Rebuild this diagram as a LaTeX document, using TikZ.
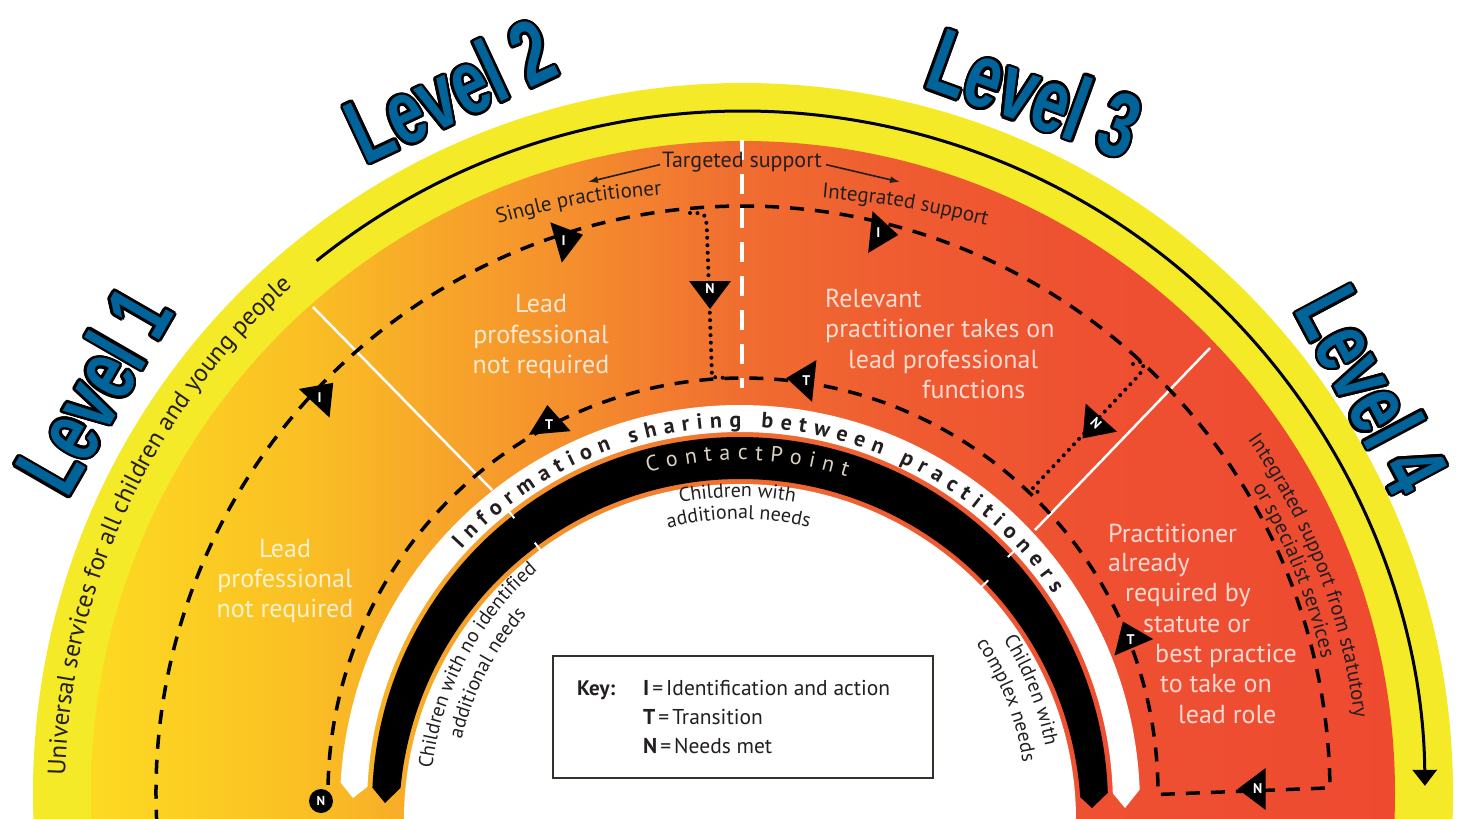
\documentclass[tikz,border=0pt]{standalone}
\usepackage{fontspec}
\setmainfont{PT Sans}
\newfontfamily\lvlfill[FakeStretch=0.70]{Liberation Sans}
\usetikzlibrary{decorations.text,arrows.meta,calc}

\definecolor{ybd}{HTML}{F4EA27}
\definecolor{g1}{HTML}{FDDA22}
\definecolor{g2}{HTML}{FAC024}
\definecolor{g3}{HTML}{F7A42A}
\definecolor{g4}{HTML}{F4892E}
\definecolor{g5}{HTML}{F06D30}
\definecolor{g6}{HTML}{EF5C31}
\definecolor{g7}{HTML}{EE5031}
\definecolor{g8}{HTML}{EE4A30}
\definecolor{lvlblue}{HTML}{00639A}
\definecolor{keyline}{HTML}{33312A}
\definecolor{cpt}{HTML}{DCD2C2}
\definecolor{ink}{HTML}{231F20}

\pgfdeclarehorizontalshading{ecm}{100bp}{color(0bp)=(g1); color(25bp)=(g1); color(33bp)=(g2); color(38.8bp)=(g3); color(44.5bp)=(g4); color(50bp)=(g5); color(56bp)=(g6); color(63.7bp)=(g7); color(75bp)=(g8); color(100bp)=(g8)}

\newcommand\fsz[1]{\fontsize{#1}{#1}\selectfont}
\newcommand\fUni{\fontsize{25}{25}\selectfont}
\newcommand\fInfo{\fontsize{22}{22}\selectfont\bfseries}
\newcommand\fCP{\fontsize{22}{22}\selectfont}
\newcommand\fSm{\fontsize{21}{21}\selectfont}
\newcommand\fCh{\fontsize{20}{20}\selectfont}

\tikzset{
  dashpath/.style={line width=3.5pt, dash pattern=on 14pt off 11pt},
  dotpath/.style={line width=4pt, line cap=round, dash pattern=on 0pt off 7.5pt},
  marklet/.style={text=white, font=\bfseries\fsz{14}, inner sep=0pt},
  lvlstyle/.style={font=\lvlfill\bfseries\fontsize{91}{91}\selectfont, inner sep=0pt},
  lighttext/.style={text=white, text opacity=0.78, font=\fsz{26}, inner sep=0pt},
  darktext/.style={text=ink, inner sep=0pt},
}

\newcommand\mkr[6]{%
  \begin{scope}[shift={(#2,-#3)},rotate=#4]
    \fill[black] (19pt,0pt) -- (-9pt,21pt) -- (-9pt,-21pt) -- cycle;
    \node[marklet,rotate=#6] (#1) at (-1pt,0pt) {#5};
  \end{scope}}

\newcommand\lvllabel[5]{%
  \foreach \a in {0,20,...,340}{\node[lvlstyle,text=black,rotate=#4] at ($(#2,-#3)+(\a:2.6pt)$) {#5};}
  \node[lvlstyle,text=lvlblue,rotate=#4] (#1) at (#2,-#3) {#5};}

\begin{document}
\begin{tikzpicture}[x=1pt,y=1pt]
\useasboundingbox (0,0) rectangle (1460,-819);
\fill[white] (0,0) rectangle (1460,-819);
\coordinate (C) at (743,-793);
\coordinate (Ci) at (740,-805);
\coordinate (Cb) at (740,-820);

% bands
\fill[ybd] (C) circle (710pt);
\shade[shading=ecm] (C) circle (652pt);

% outer black arrow
\draw[line width=3pt, -{Triangle[length=16pt,width=24pt]}] ([shift={(128.7:682pt)}]C) arc[start angle=128.7,end angle=0.6,radius=682pt];

% white dividers
\draw[white, line width=2.5pt] (313,-307) -- (492,-490);
\draw[white, line width=2.5pt] (1210,-348) -- (1035,-530);
\draw[white, line width=3.5pt, dash pattern=on 20pt off 14pt] (742,-140) -- (742,-388);

% information sharing band
\fill[white] ([shift={(176.8:400pt)}]Ci) arc[start angle=176.8,end angle=2.2,radius=400pt] -- ($(Ci)+(385pt,-3pt)$) -- ([shift={(1.8:373pt)}]Ci) arc[start angle=1.8,end angle=177.2,radius=373pt] -- ($(Ci)+(-387pt,7pt)$) -- cycle;
% ContactPoint band
\fill[black] ([shift={(177.3:368pt)}]Ci) arc[start angle=177.3,end angle=1.9,radius=368pt] -- ($(Ci)+(352pt,-3pt)$) -- ([shift={(3.85:341pt)}]Cb) arc[start angle=3.85,end angle=174.6,radius=341pt] -- ($(Ci)+(-355pt,2pt)$) -- cycle;
% interior
\fill[white] (Cb) circle (336pt);

% ticks
\foreach \ang in {128.2,42.8}{\draw[white,line width=2pt] ([shift={(\ang:365pt)}]Ci) -- ([shift={(\ang:376pt)}]Ci);}
\foreach \ang in {126.5,44}{\draw[white,line width=2pt] ([shift={(\ang:332pt)}]Cb) -- ([shift={(\ang:345pt)}]Cb);}

% pathways
\draw[dashpath] ([shift={(183:587pt)}]C) arc[start angle=183,end angle=0.5,radius=587pt] -- ([shift={(-0.2:415pt)}]C) arc[start angle=-0.2,end angle=180.9,radius=415pt];
\draw[dotpath] (690,-213) .. controls (706,-213) .. (707,-232) -- (712,-377) -- (726,-378);
\draw[dotpath] (1133,-364) .. controls (1146,-360) .. (1140,-374) -- (1032,-489) -- (1042,-494);

% markers
\mkr{mIa}{320.3}{396.7}{47}{I}{0}
\mkr{mIb}{564.7}{240}{16}{I}{0}
\mkr{mNa}{710}{290}{-90}{N}{0}
\mkr{mIc}{879.3}{233}{-6}{I}{0}
\mkr{mTb}{805.3}{380}{174}{T}{0}
\mkr{mTa}{549}{424}{95}{T}{0}
\mkr{mNb}{1095.3}{424.3}{-132}{N}{-45}
\mkr{mTc}{1130.3}{639}{113}{T}{0}
\mkr{mNc}{1256.7}{789}{180}{N}{0}
\node[circle, fill=black, minimum size=24pt, inner sep=0pt, text=white, font=\bfseries\fsz{13}] (nend) at (321,-801) {N};

% level labels
\lvllabel{lvA}{93}{390}{60}{Level 1}
\lvllabel{lvB}{450}{90}{25}{Level 2}
\lvllabel{lvC}{1035}{93}{-20}{Level 3}
\lvllabel{lvD}{1373}{390}{-62}{Level 4}

% curved texts
\path[decorate,decoration={text along path,text color=ink,text align=center,text={|\fUni|Universal services for all children and young people}}] ([shift={(190:678pt)}]C) arc[start angle=190,end angle=120.2,radius=678pt];
\path[decorate,decoration={text along path,text color=ink,text align=center,text={|\fSm|Integrated support from statutory}}] ([shift={(50:616pt)}]C) arc[start angle=50,end angle=-8,radius=616pt];
\path[decorate,decoration={text along path,text color=ink,text align=center,text={|\fSm|or specialist services}}] ([shift={(50:594pt)}]C) arc[start angle=50,end angle=-6,radius=594pt];
\path[decorate,decoration={text along path,text color=ink,text align={fit to path},text={|\fInfo|Information sharing between practitioners}}] ([shift={(137.5:378pt)}]Ci) arc[start angle=137.5,end angle=34,radius=378pt];
\path[decorate,decoration={text along path,text color=cpt,text align={fit to path},text={|\fCP|ContactPoint}}] ([shift={(105.5:345pt)}]Ci) arc[start angle=105.5,end angle=72,radius=345pt];
\path[decorate,decoration={text along path,text color=ink,text align=center,text={|\fCh|Children with}}] ([shift={(130:308pt)}]Ci) arc[start angle=130,end angle=51,radius=308pt];
\path[decorate,decoration={text along path,text color=ink,text align=center,text={|\fCh|additional needs}}] ([shift={(130:286pt)}]Ci) arc[start angle=130,end angle=50.6,radius=286pt];
\path[decorate,decoration={text along path,text color=ink,text align=center,text={|\fCh|Children with no identified}}] ([shift={(192:310pt)}]Ci) arc[start angle=192,end angle=112,radius=310pt];
\path[decorate,decoration={text along path,text color=ink,text align=center,text={|\fCh|additional needs}}] ([shift={(192:286pt)}]Ci) arc[start angle=192,end angle=113,radius=286pt];
\path[decorate,decoration={text along path,text color=ink,text align=center,text={|\fCh|Children with}}] ([shift={(60:311pt)}]Ci) arc[start angle=60,end angle=-17,radius=311pt];
\path[decorate,decoration={text along path,text color=ink,text align=center,text={|\fCh|complex needs}}] ([shift={(60:286pt)}]Ci) arc[start angle=60,end angle=-17,radius=286pt];
\path[decorate,decoration={text along path,text color=ink,text align=center,text={|\fSm|Single practitioner}}] (490,-226) to[bend left=6] (670,-194);
\path[decorate,decoration={text along path,text color=ink,text align=center,text={|\fSm|Integrated support}}] (812,-197) to[bend left=5] (996,-228);

% targeted support
\node[darktext, font=\fsz{22}, anchor=base] (tgt) at (742,-167) {Targeted support};
\coordinate (tgtL) at (588,-182);
\coordinate (tgtR) at (900,-182);
\draw[ink, line width=1.6pt, -{Latex[length=10pt,width=7pt]}] ($(tgt.west)+(-2pt,-3pt)$) -- (tgtL);
\draw[ink, line width=1.6pt, -{Latex[length=10pt,width=7pt]}] ($(tgt.east)+(4pt,-3pt)$) -- (tgtR);

% light texts level 1
\node[lighttext, anchor=base] (a1) at (285,-557) {Lead};
\node[lighttext, anchor=base] (a2) at (285,-587) {professional};
\node[lighttext, anchor=base] (a3) at (285,-617) {not required};
% level 2
\node[lighttext, anchor=base] (b1) at (541,-312) {Lead};
\node[lighttext, anchor=base] (b2) at (541,-343) {professional};
\node[lighttext, anchor=base] (b3) at (541,-373) {not required};
% level 3
\node[lighttext, anchor=base west] (c1) at (825,-307) {Relevant};
\node[lighttext, anchor=base west] (c2) at (825,-337) {practitioner takes on};
\node[lighttext, anchor=base west] (c3) at (848,-368) {lead professional};
\node[lighttext, anchor=base west] (c4) at (922,-398) {functions};
% level 4
\node[lighttext, anchor=base west] (d1) at (1108,-542) {Practitioner};
\node[lighttext, anchor=base west] (d2) at (1108,-571) {already};
\node[lighttext, anchor=base west] (d3) at (1125,-601) {required by};
\node[lighttext, anchor=base west] (d4) at (1143,-632) {statute or};
\node[lighttext, anchor=base west] (d5) at (1155,-662) {best practice};
\node[lighttext, anchor=base west] (d6) at (1160,-692) {to take on};
\node[lighttext, anchor=base west] (d7) at (1178,-723) {lead role};

% key
\node[draw=keyline, line width=2.5pt, minimum width=380pt, minimum height=122pt, inner sep=0pt] (key) at (743,-717) {};
\node[darktext, font=\bfseries\fsz{21}, anchor=base west] (keyh) at (577,-695) {Key:};
\node[darktext, font=\fsz{21.5}, anchor=base west] (k1) at (643,-695) {\textbf{I}\hspace{3pt}=\hspace{3pt}Identification and action};
\node[darktext, font=\fsz{21.5}, anchor=base west] (k2) at (643,-724) {\textbf{T}\hspace{3pt}=\hspace{3pt}Transition};
\node[darktext, font=\fsz{21.5}, anchor=base west] (k3) at (643,-753) {\textbf{N}\hspace{3pt}=\hspace{3pt}Needs met};
\end{tikzpicture}
\end{document}
